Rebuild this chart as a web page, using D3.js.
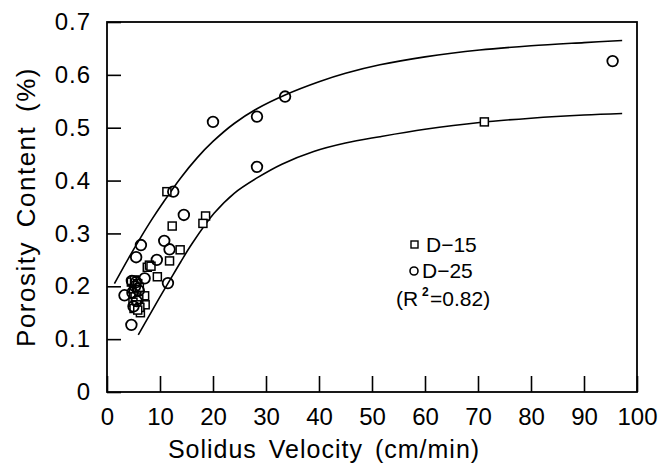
<!DOCTYPE html>
<html>
<head>
<meta charset="utf-8">
<script src="https://cdn.jsdelivr.net/npm/d3@7"></script>
<style>
  body { margin: 0; background: #fff; }
  svg { display: block; font-family: "Liberation Sans", Arial, sans-serif; }
</style>
</head>
<body>
<div id="svg-container"></div>
<script>
// data
// D-15 squares: [velocity, porosity]
const d15 = [
  [11.3, 0.379], [12.3, 0.314], [18.6, 0.333], [18.1, 0.319], [13.8, 0.269],
  [11.8, 0.248], [7.6, 0.236], [8.0, 0.240], [8.3, 0.238], [9.5, 0.218],
  [7.1, 0.182], [7.2, 0.165], [6.3, 0.150], [71.2, 0.511],
  [4.6, 0.208], [5.2, 0.212], [5.8, 0.205], [5.0, 0.195], [5.6, 0.190],
  [6.1, 0.198], [5.3, 0.180], [6.0, 0.175], [4.9, 0.170], [5.6, 0.165],
  [6.2, 0.160], [5.1, 0.158], [5.8, 0.155]
];
// D-25 circles
const d25 = [
  [12.5, 0.379], [14.5, 0.335], [6.4, 0.278], [5.5, 0.255], [10.8, 0.286],
  [11.8, 0.270], [9.4, 0.250], [7.1, 0.215], [11.5, 0.206], [3.3, 0.183],
  [4.6, 0.127], [20.0, 0.511], [28.3, 0.521], [33.6, 0.559], [28.3, 0.426],
  [95.4, 0.626],
  [4.7, 0.210], [5.3, 0.200], [4.8, 0.188], [5.6, 0.172], [5.0, 0.162],
  [6.0, 0.192], [5.5, 0.208]
];
// upper and lower bound curves
const upperCurve = [
  [1.4, 0.205], [4, 0.252], [6.4, 0.293], [8.5, 0.327], [10.5, 0.357],
  [13.9, 0.405], [17, 0.443], [20, 0.474], [24, 0.508], [28.3, 0.536],
  [33.6, 0.562], [40, 0.587], [45, 0.603], [51.5, 0.619], [60, 0.634],
  [70.3, 0.647], [80, 0.655], [90, 0.661], [97.2, 0.665]
];
const lowerCurve = [
  [5.9, 0.108], [8, 0.145], [10, 0.18], [12, 0.214], [13.9, 0.246],
  [16, 0.28], [20.2, 0.338], [24, 0.376], [28.3, 0.405], [33, 0.431],
  [39, 0.455], [45, 0.471], [51.5, 0.483], [60, 0.497], [70.3, 0.510],
  [80, 0.518], [90, 0.524], [97.2, 0.527]
];
const xTicks = [0, 10, 20, 30, 40, 50, 60, 70, 80, 90, 100];
const yTicks = [0, 0.1, 0.2, 0.3, 0.4, 0.5, 0.6, 0.7];
const legendItems = ["D\u221215", "D\u221225"];

////////////////////////////  Init  ///////////////////////////////
const width = 670;
const height = 467;
const margin = { top: 22, right: 33, bottom: 75, left: 107 };

const svg = d3.select("#svg-container").append("svg")
  .attr("width", width)
  .attr("height", height);

const xScale = d3.scaleLinear().domain([0, 100]).range([margin.left, width - margin.right]);
const yScale = d3.scaleLinear().domain([0, 0.7]).range([height - margin.bottom, margin.top]);

const fmtY = (d) => (d === 0 ? "0" : d3.format(".1f")(d));

// axes (ticks point inward)
const xAxis = d3.axisBottom(xScale).tickValues(xTicks).tickSize(-16).tickSizeOuter(0).tickPadding(16);
const yAxis = d3.axisLeft(yScale).tickValues(yTicks).tickFormat(fmtY).tickSize(-14).tickSizeOuter(0).tickPadding(16);

svg.append("g")
  .attr("transform", `translate(0, ${height - margin.bottom})`)
  .call(xAxis)
  .call((g) => g.select(".domain").remove())
  .call((g) => g.selectAll("line").attr("stroke", "#000").attr("stroke-width", 1.6))
  .call((g) => g.selectAll("text").attr("font-size", 24).attr("fill", "#000")
    .attr("font-family", "Liberation Sans, Arial, sans-serif"));

svg.append("g")
  .attr("transform", `translate(${margin.left}, 0)`)
  .call(yAxis)
  .call((g) => g.select(".domain").remove())
  .call((g) => g.selectAll("line").attr("stroke", "#000").attr("stroke-width", 1.6))
  .call((g) => g.selectAll("text").attr("font-size", 24).attr("fill", "#000")
    .attr("letter-spacing", 1)
    .attr("font-family", "Liberation Sans, Arial, sans-serif"));

// frame
svg.append("rect")
  .attr("x", xScale(0))
  .attr("y", yScale(0.7))
  .attr("width", xScale(100) - xScale(0))
  .attr("height", yScale(0) - yScale(0.7))
  .attr("fill", "none")
  .attr("stroke", "#000")
  .attr("stroke-width", 1.8);

// axis titles
svg.append("text")
  .attr("x", 324)
  .attr("y", 458)
  .attr("text-anchor", "middle")
  .attr("font-size", 25)
  .attr("letter-spacing", 1)
  .attr("word-spacing", 4)
  .text("Solidus Velocity (cm/min)");

svg.append("text")
  .attr("transform", `translate(35, ${(yScale(0) + yScale(0.7)) / 2}) rotate(-90)`)
  .attr("text-anchor", "middle")
  .attr("font-size", 26)
  .attr("letter-spacing", 1.5)
  .attr("word-spacing", 5)
  .text("Porosity Content (%)");

// curves
const line = d3.line()
  .x((d) => xScale(d[0]))
  .y((d) => yScale(d[1]))
  .curve(d3.curveCatmullRom);

[upperCurve, lowerCurve].forEach((c) => {
  svg.append("path")
    .datum(c)
    .attr("fill", "none")
    .attr("stroke", "#000")
    .attr("stroke-width", 1.6)
    .attr("d", line);
});

// points
svg.append("g").selectAll("rect")
  .data(d15)
  .join("rect")
  .attr("x", (d) => xScale(d[0]) - 4)
  .attr("y", (d) => yScale(d[1]) - 4)
  .attr("width", 8)
  .attr("height", 8)
  .attr("fill", "#fff")
  .attr("stroke", "#000")
  .attr("stroke-width", 1.5);

svg.append("g").selectAll("circle")
  .data(d25)
  .join("circle")
  .attr("cx", (d) => xScale(d[0]))
  .attr("cy", (d) => yScale(d[1]))
  .attr("r", 5.3)
  .attr("fill", "none")
  .attr("stroke", "#000")
  .attr("stroke-width", 1.8);

// legend
const legend = svg.append("g").attr("font-size", 21);
legend.append("rect")
  .attr("x", 411).attr("y", 241).attr("width", 7).attr("height", 7)
  .attr("fill", "#fff").attr("stroke", "#000").attr("stroke-width", 1.4);
legend.append("text").attr("x", 426).attr("y", 252).text(legendItems[0]);
legend.append("circle")
  .attr("cx", 414).attr("cy", 271).attr("r", 4)
  .attr("fill", "none").attr("stroke", "#000").attr("stroke-width", 1.6);
legend.append("text").attr("x", 422).attr("y", 278).text(legendItems[1]);

legend.append("text").attr("x", 396).attr("y", 306).text("(R");
legend.append("text").attr("x", 422).attr("y", 296).attr("font-size", 12)
  .attr("font-weight", "bold").text("2");
legend.append("text").attr("x", 430).attr("y", 306).text("=0.82)");
</script>
</body>
</html>
